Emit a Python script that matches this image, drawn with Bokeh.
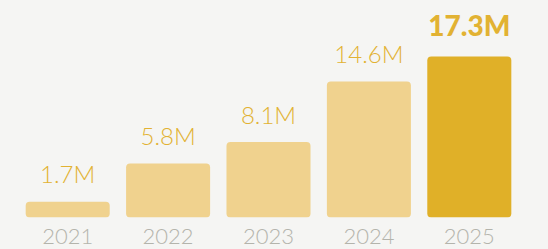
from bokeh.plotting import figure
from bokeh.models import ColumnDataSource
from bokeh.core.properties import value
from bokeh.embed import file_html
from bokeh.resources import INLINE

years = ["2021", "2022", "2023", "2024", "2025"]
users_m = [1.7, 5.8, 8.1, 14.6, 17.3]
labels = ["1.7M", "5.8M", "8.1M", "14.6M", "17.3M"]
highlight = "2025"

BG = "#f5f5f3"
LIGHT = "#f0d28e"
DARK = "#e0b028"
LABEL = "#e2b232"
AXIS = "#b4b4ac"

src = ColumnDataSource(dict(
    year=years,
    v=users_m,
    label=labels,
    color=[DARK if y == highlight else LIGHT for y in years],
    font=["Lato Black" if y == highlight else "Lato Light" for y in years],
    size=["28px" if y == highlight else "24px" for y in years],
    off=[-31 if y == highlight else -28 for y in years],
))

p = figure(x_range=years, y_range=(0, 23.3), width=548, height=249,
           output_backend="svg", toolbar_location=None,
           min_border_left=17, min_border_right=29,
           min_border_top=0, min_border_bottom=32)
p.background_fill_color = BG
p.border_fill_color = BG
p.outline_line_color = None
p.grid.grid_line_color = None
p.yaxis.visible = False
p.x_range.range_padding = 0

p.vbar(x="year", top="v", width=0.837, source=src, fill_color="color",
       line_color=None, border_radius=4)

p.text(x="year", y="v", text="label", source=src, text_align="center",
       text_baseline="alphabetic", text_color=LABEL,
       text_font="font", text_font_size="size", y_offset="off")

ax = p.xaxis
ax.axis_line_color = None
ax.major_tick_line_color = None
ax.major_tick_out = 0
ax.major_tick_in = 0
ax.major_label_standoff = 11
ax.major_label_text_font = "Lato Light"
ax.major_label_text_font_size = "22px"
ax.major_label_text_color = AXIS

html = file_html(p, INLINE)
html = html.replace("<head>", "<head><style>html,body{margin:0;padding:0;background:%s;overflow:hidden}</style>" % BG, 1)
open("out.html", "w").write(html)
